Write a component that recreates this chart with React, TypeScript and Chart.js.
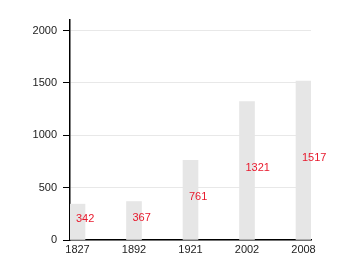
import React, { useEffect, useRef } from "react";
import { Chart, registerables } from "chart.js";

Chart.register(...registerables);

const years = ["1827", "1892", "1921", "2002", "2008"];
const values = [342, 367, 761, 1321, 1517];
const yTicks = [0, 500, 1000, 1500, 2000];

const labelPlugin = {
  id: "valueLabels",
  afterDatasetsDraw(chart: any) {
    const ctx = chart.ctx;
    const meta = chart.getDatasetMeta(0);
    ctx.save();
    ctx.fillStyle = "#e8192c";
    ctx.font = "11px 'Liberation Sans', Arial, sans-serif";
    ctx.textAlign = "left";
    ctx.textBaseline = "alphabetic";
    meta.data.forEach((el: any, i: number) => {
      const midY = (el.y + el.base) / 2;
      ctx.fillText(String(values[i]), el.x - 1.5, midY + 0.5);
    });
    ctx.restore();
  },
};

export default function App() {
  const ref = useRef<HTMLCanvasElement>(null);
  useEffect(() => {
    if (!ref.current) return;
    const chart = new Chart(ref.current, {
      type: "bar",
      data: {
        datasets: [
          {
            data: values.map((v, i) => ({ x: i, y: v })),
            backgroundColor: "#e6e6e6",
            borderWidth: 0,
            barThickness: 15,
          },
        ],
      },
      options: {
        animation: false,
        responsive: false,
        maintainAspectRatio: false,
        layout: { padding: { left: 0, right: 39, top: 20, bottom: 0 } },
        plugins: { legend: { display: false }, tooltip: { enabled: false } },
        scales: {
          x: {
            type: "linear",
            offset: false,
            min: -0.1327,
            max: 4.1327,
            afterBuildTicks: (scale: any) => {
              scale.ticks = years.map((_, i) => ({ value: i }));
            },
            afterFit: (scale: any) => {
              scale.height = 20;
            },
            grid: { display: false, drawTicks: false, offset: false },
            border: { display: true, color: "#000", width: 1.5 },
            ticks: {
              padding: 3,
              color: "#222",
              font: { family: "'Liberation Sans', Arial, sans-serif", size: 11 },
              callback: (v: any) => years[Math.round(Number(v))] ?? "",
              maxRotation: 0,
              autoSkip: false,
            },
          },
          y: {
            min: 0,
            max: 2100,
            afterBuildTicks: (scale: any) => {
              scale.ticks = yTicks.map((v) => ({ value: v }));
            },
            afterFit: (scale: any) => {
              scale.width = 70;
            },
            grid: {
              color: "#e8e8e8",
              tickColor: "#000",
              tickLength: 7,
              lineWidth: 1,
            },
            border: { display: true, color: "#000", width: 1.5 },
            ticks: {
              padding: 6,
              color: "#222",
              font: { family: "'Liberation Sans', Arial, sans-serif", size: 11 },
              callback: (v: any) => String(v),
            },
          },
        },
      },
      plugins: [labelPlugin],
    });
    return () => chart.destroy();
  }, []);
  return (
    <div style={{ position: "fixed", left: 0, top: 0, width: 350, height: 260 }}>
      <canvas ref={ref} width={350} height={260} />
    </div>
  );
}
